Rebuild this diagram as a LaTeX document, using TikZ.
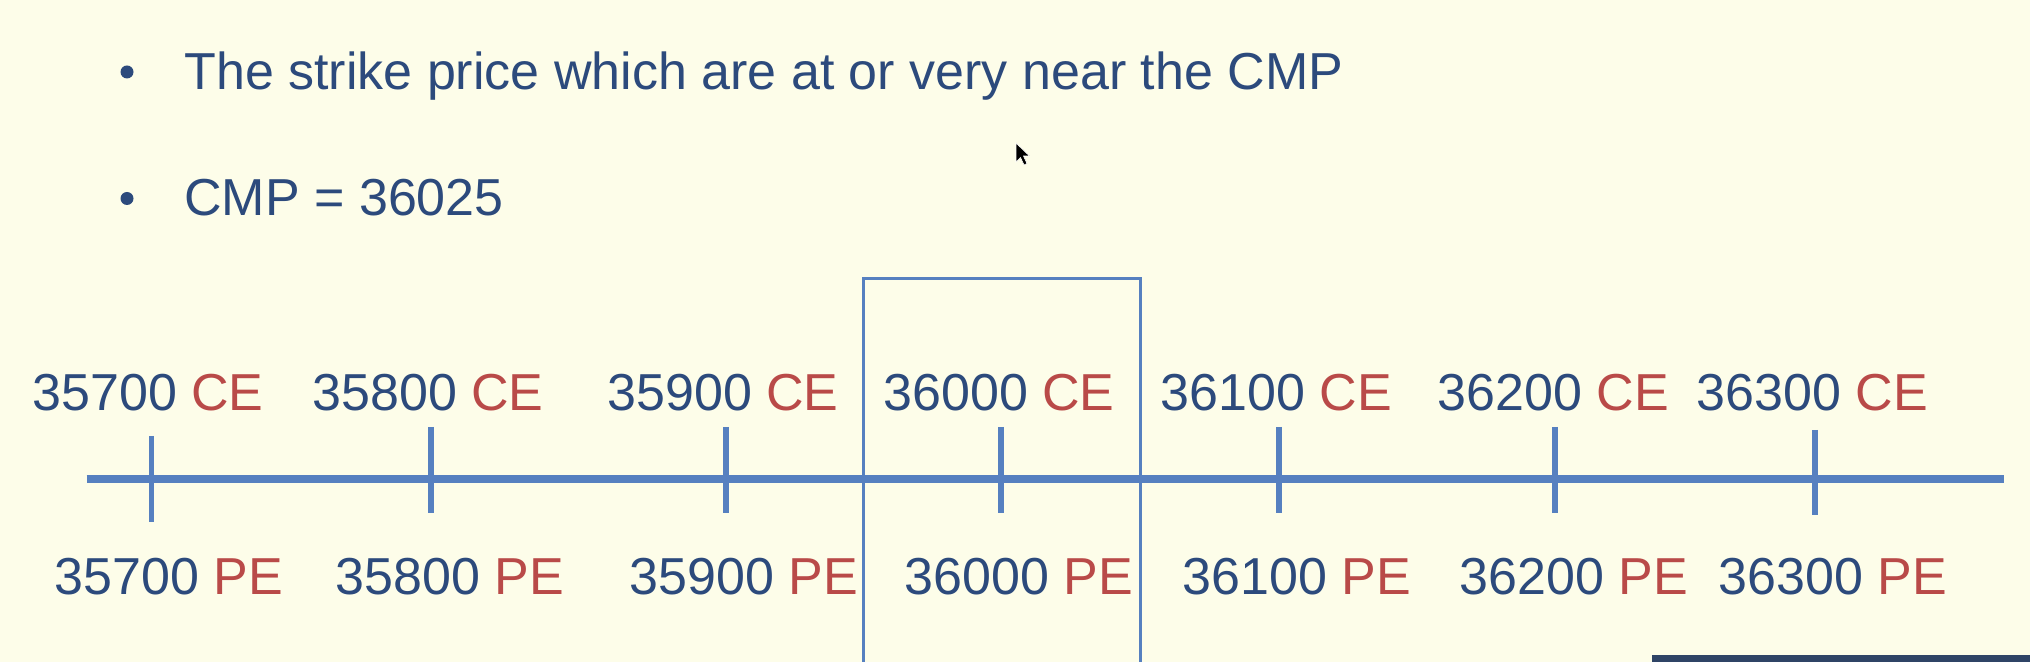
\documentclass[tikz,border=0pt]{standalone}
\usepackage{fontspec}
\setmainfont{Liberation Sans}
\definecolor{bg}{HTML}{FDFDE9}
\definecolor{navy}{HTML}{2C4A7C}
\definecolor{redc}{HTML}{B94A48}
\definecolor{axisblue}{HTML}{5680C0}
\definecolor{strip}{HTML}{2F4466}
\begin{document}
\begin{tikzpicture}[x=0.5pt,y=-0.5pt,
  txt/.style={font=\fontsize{26pt}{31pt}\selectfont, text=navy, inner sep=0pt, anchor=base west},
  bul/.style={circle, fill=navy, inner sep=0pt, minimum size=6.5pt},
  tickline/.style={draw=axisblue, line width=2.6pt},
  axisline/.style={draw=axisblue, line width=3.6pt},
  boxline/.style={draw=axisblue, line width=1.5pt}]
\path[use as bounding box, fill=bg] (0,0) rectangle (2030,662);
% bullets
\node[bul] (b1) at (127,72) {};
\node[bul] (b2) at (127,198.5) {};
\node[txt] (t1) at (184,89.5) {The strike price which are at or very near the CMP};
\node[txt] (t2) at (184,215.5) {CMP = 36025};
% box
\coordinate (bx1) at (863.5,278.3);
\coordinate (bx2) at (1140.5,278.3);
\coordinate (bx3) at (863.5,670);
\coordinate (bx4) at (1140.5,670);
\draw[boxline] (bx3) -- (bx1) -- (bx2) -- (bx4);
% axis
\coordinate (ax1) at (86.7,479);
\coordinate (ax2) at (2004,479);
\draw[axisline] (ax1) -- (ax2);
% ticks
\foreach \i/\x/\ya/\yb in {1/151.5/436/522, 2/431/427/513, 3/726/427/513, 4/1001/427/513, 5/1279/427/513, 6/1555/427/513, 7/1815/430/515}{
  \coordinate (tk\i a) at (\x,\ya);
  \coordinate (tk\i b) at (\x,\yb);
  \draw[tickline] (tk\i a) -- (tk\i b);
}
% labels
\foreach \i/\v/\cx/\px in {1/35700/32/54, 2/35800/312/335, 3/35900/607/629, 4/36000/883/904, 5/36100/1160/1182, 6/36200/1437/1459, 7/36300/1696/1718}{
  \node[txt] (ce\i) at (\cx,411) {\v{} \textcolor{redc}{CE}};
  \node[txt] (pe\i) at (\px,595) {\v{} \textcolor{redc}{PE}};
}
% mouse cursor
\fill[black, draw=white, line width=0.3pt] (1016,143) -- (1016,162) -- (1020.5,157.5) -- (1024,165) -- (1027,163.5) -- (1023.5,156) -- (1029.5,156) -- cycle;
% bottom strip
\fill[strip] (1652,655) rectangle (2030,662);
\end{tikzpicture}
\end{document}
